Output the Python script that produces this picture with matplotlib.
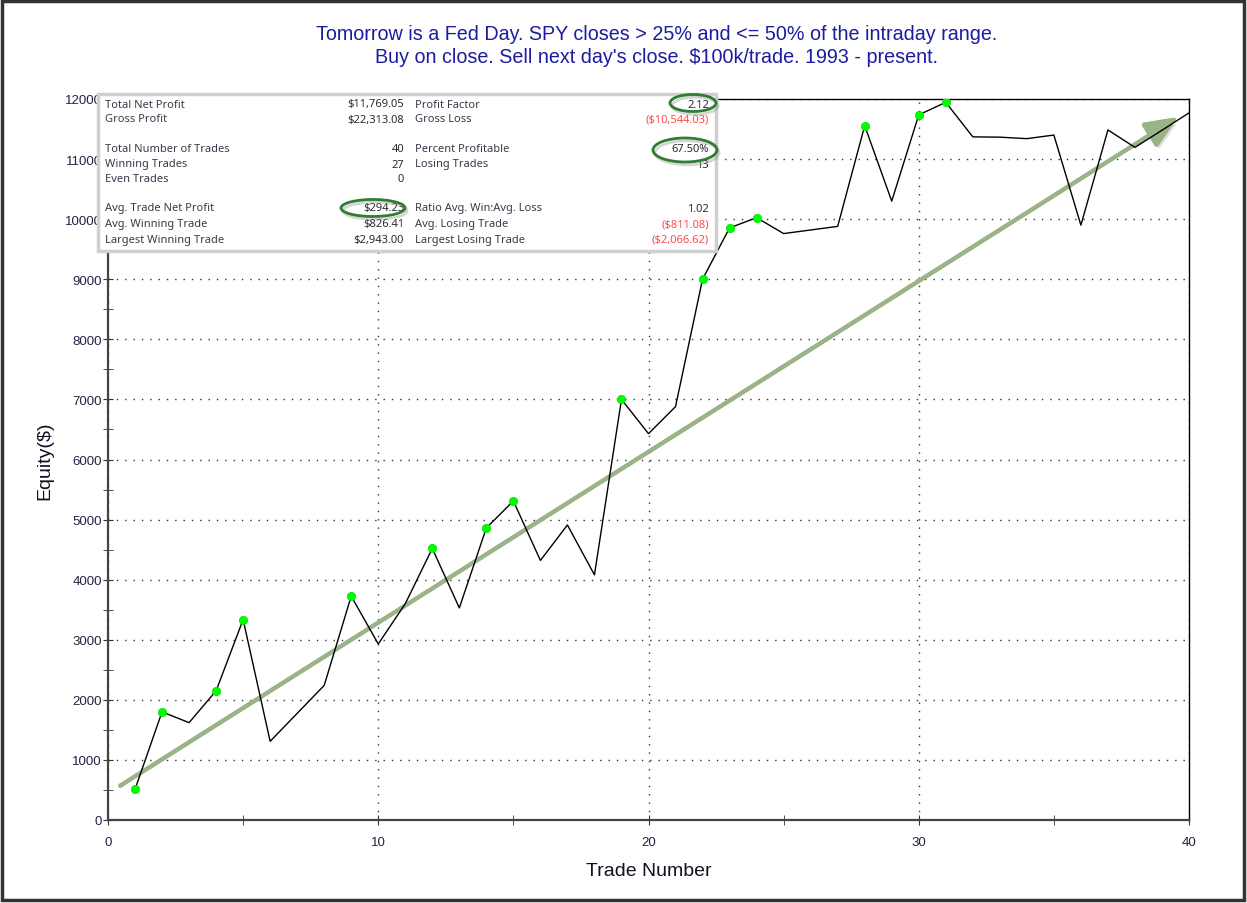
import numpy as np
import matplotlib.pyplot as plt
import matplotlib.patheffects as pe
from matplotlib.patches import Rectangle, Ellipse

# Equity curve
trades = np.arange(1, 41)
equity = [510, 1800, 1620, 2150, 3335, 1310, 1775, 2240, 3725, 2930,
          3600, 4520, 3530, 4860, 5310, 4320, 4910, 4080, 7000, 6430,
          6880, 9000, 9855, 10025, 9760, 9820, 9880, 11555, 10300, 11735,
          11945, 11370, 11365, 11340, 11400, 9900, 11485, 11195, 11480, 11769]

# trend arrow drawn on top (trade number, equity)
arrow_start = (0.45, 570)
arrow_end = (39.6, 11700)

# stats table
left_labels = ["Total Net Profit", "Gross Profit", "", "Total Number of Trades",
               "Winning Trades", "Even Trades", "", "Avg. Trade Net Profit",
               "Avg. Winning Trade", "Largest Winning Trade"]
left_values = ["$11,769.05", "$22,313.08", "", "40", "27", "0", "",
               "$294.23", "$826.41", "$2,943.00"]
right_labels = ["Profit Factor", "Gross Loss", "", "Percent Profitable",
                "Losing Trades", "", "", "Ratio Avg. Win:Avg. Loss",
                "Avg. Losing Trade", "Largest Losing Trade"]
right_values = ["2.12", "($10,544.03)", "", "67.50%", "13", "", "",
                "1.02", "($811.08)", "($2,066.62)"]

title = ("Tomorrow is a Fed Day. SPY closes > 25% and <= 50% of the intraday range.\n"
         "Buy on close. Sell next day's close. $100k/trade. 1993 - present.")

plt.rcParams['font.family'] = ['Liberation Sans', 'DejaVu Sans']

W, H = 1247, 904
fig = plt.figure(figsize=(W / 100, H / 100), dpi=100)
ax = fig.add_axes([108 / W, 1 - 821 / H, 1081 / W, 721 / H])

eq = np.array(equity)
is_high = eq >= np.maximum.accumulate(eq)
ax.plot(trades, eq, color='black', lw=1, zorder=4)
ax.plot(trades[is_high], eq[is_high], 'o', color='#00ff00', ms=6, mec='#00e000',
        mew=0.5, zorder=5)

ax.annotate("", xy=arrow_end, xytext=arrow_start,
            arrowprops=dict(arrowstyle='-|>,head_length=2.0,head_width=0.85',
                            lw=3, color='#9ab487', shrinkA=0, shrinkB=0,
                            path_effects=[pe.withSimplePatchShadow(offset=(2, -3), shadow_rgbFace='#999999', alpha=0.3),
                                          pe.Normal()]),
            zorder=3)

ax.set_xlim(0, 40)
ax.set_ylim(0, 12000)
ax.set_xticks(np.arange(0, 41, 10))
ax.set_xticks(np.arange(5, 40, 10), minor=True)
ax.set_yticks(np.arange(0, 12001, 1000))
ax.set_yticks(np.arange(500, 12000, 1000), minor=True)
ax.tick_params(which='both', direction='inout', colors='#333333', labelcolor='#222244',
               labelsize=9.5, length=7)
ax.tick_params(axis='y', which='both', pad=1)
ax.tick_params(axis='x', which='both', pad=8)
ax.grid(True, which='major', color='#333333', linestyle=(0, (1, 5)), lw=1)
for s in ['left', 'bottom']:
    ax.spines[s].set_color('#444444')
    ax.spines[s].set_linewidth(1.6)
for s in ['top', 'right']:
    ax.spines[s].set_color('black')
    ax.spines[s].set_linewidth(1)
ax.set_xlabel("Trade Number", fontsize=14, color='#111122', labelpad=10)
ax.set_ylabel("Equity($)", fontsize=14, color='#111122', labelpad=8)

# overlay in pixel coordinates for title, stats box and frame
ov = fig.add_axes([0, 0, 1, 1], zorder=10)
ov.set_xlim(0, W)
ov.set_ylim(H, 0)
ov.axis('off')
ov.patch.set_visible(False)

ov.add_patch(Rectangle((2, 2), W - 5, H - 5, fill=False, ec='#333333', lw=2.5))
ov.text(W / 2 + 33, 46, title, ha='center', va='center', fontsize=14.2,
        color='#1c1ca0', linespacing=1.28)

ov.add_patch(Rectangle((98, 95), 618, 157, fc='white', ec='#cfcfcf', lw=2.5, zorder=1))
row_y = [105, 120, 135, 150, 165, 180, 194, 209, 225, 240]
fam = ['Noto Sans', 'DejaVu Sans']
for i, y in enumerate(row_y):
    ov.text(105, y, left_labels[i], ha='left', va='center', fontsize=8,
            color='#3a3a4a', family=fam, zorder=2)
    ov.text(404, y, left_values[i], ha='right', va='center', fontsize=8,
            color='#2a2a35', family=fam, zorder=2)
    ov.text(415, y, right_labels[i], ha='left', va='center', fontsize=8,
            color='#3a3a4a', family=fam, zorder=2)
    red = right_values[i].startswith('(')
    ov.text(709, y, right_values[i], ha='right', va='center', fontsize=8,
            color='#ff4a4a' if red else '#2a2a35', family=fam, zorder=2)

shadow = [pe.SimpleLineShadow(offset=(1.5, -2), shadow_color='#888888', alpha=0.35),
          pe.Normal()]
for cx, cy, w, h in [(693, 104, 46, 17), (685, 151, 64, 24), (373, 209, 64, 17)]:
    ov.add_patch(Ellipse((cx, cy), w, h, fill=False, ec='#2e7d32', lw=2,
                         path_effects=shadow, zorder=3))

fig.savefig("out.png", dpi=100)
